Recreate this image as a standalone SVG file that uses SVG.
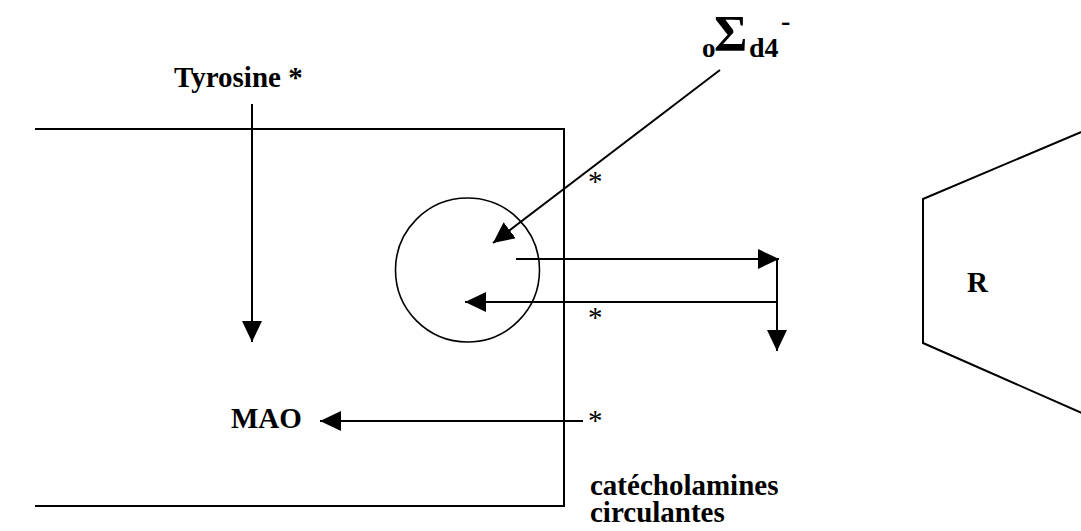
<svg xmlns="http://www.w3.org/2000/svg" width="1081" height="531" viewBox="0 0 1081 531">
<style>
.t{font-family:"Liberation Serif","Times New Roman",serif;font-weight:bold;fill:#000;}
.a{font-family:"Liberation Serif","Times New Roman",serif;font-weight:normal;fill:#000;font-size:29px;}
.ln{stroke:#000;stroke-width:2;fill:none;}
</style>
<defs>
<marker id="ah" markerUnits="userSpaceOnUse" markerWidth="22" markerHeight="20" refX="21" refY="10" orient="auto" viewBox="0 0 22 20">
<path d="M0,0 L21,10 L0,20 z" fill="#000"/>
</marker>
</defs>
<rect width="1081" height="531" fill="#fff"/>
<g id="cell">
<path class="ln" d="M35,129 H564 V506 H35"/>
</g>
<g id="vesicle">
<circle cx="467.5" cy="270" r="72" fill="none" stroke="#000" stroke-width="1.6"/>
</g>
<g id="receptor">
<path class="ln" d="M1100,124 L923,199 V343 L1100,421"/>
<text class="t" x="967" y="292" font-size="29">R</text>
</g>
<g id="labels">
<text class="t" x="174" y="87" font-size="29">Tyrosine *</text>
<text class="t" x="231" y="428" font-size="29">MAO</text>
<text class="t" x="590" y="495" font-size="29">catécholamines</text>
<text class="t" x="590" y="522" font-size="29">circulantes</text>
<text class="t" x="702" y="57" font-size="27">o</text>
<text class="t" x="714" y="50" font-size="51">Σ</text>
<text class="t" x="749" y="57" font-size="28">d4</text>
<text class="t" x="781" y="30" font-size="28">-</text>
<text class="a" x="588" y="191">*</text>
<text class="a" x="588" y="327">*</text>
<text class="a" x="588" y="430">*</text>
</g>
<g id="connectors">
<line class="ln" x1="252" y1="104" x2="252" y2="342" marker-end="url(#ah)"/>
<line class="ln" x1="720" y1="70" x2="493" y2="243" marker-end="url(#ah)"/>
<line class="ln" x1="516" y1="259" x2="779" y2="259" marker-end="url(#ah)"/>
<line class="ln" x1="777" y1="259" x2="777" y2="351" marker-end="url(#ah)"/>
<line class="ln" x1="777" y1="302" x2="465" y2="302" marker-end="url(#ah)"/>
<line class="ln" x1="583" y1="421" x2="320" y2="421" marker-end="url(#ah)"/>
</g>
</svg>
